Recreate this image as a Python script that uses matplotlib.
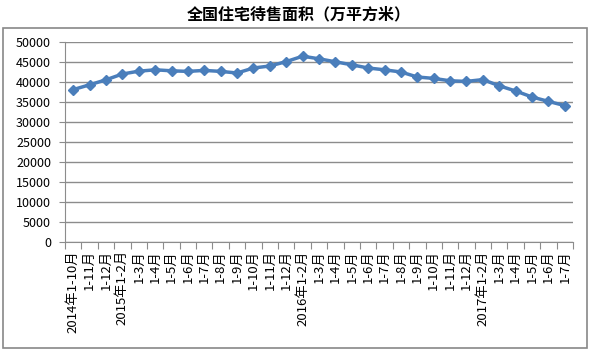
import matplotlib.pyplot as plt
from matplotlib.patches import Rectangle

plt.rcParams['font.family'] = ['Noto Sans CJK SC', 'DejaVu Sans']

categories = ['2014年1-10月', '1-11月', '1-12月',
              '2015年1-2月', '1-3月', '1-4月', '1-5月', '1-6月', '1-7月', '1-8月',
              '1-9月', '1-10月', '1-11月', '1-12月',
              '2016年1-2月', '1-3月', '1-4月', '1-5月', '1-6月', '1-7月', '1-8月',
              '1-9月', '1-10月', '1-11月', '1-12月',
              '2017年1-2月', '1-3月', '1-4月', '1-5月', '1-6月', '1-7月']
values = [38100, 39300, 40550, 42000, 42700, 43050, 42800, 42650, 42900, 42650,
          42250, 43500, 44000, 45100,
          46450, 45800, 45050, 44300, 43500, 43050, 42500,
          41250, 40900, 40300, 40150,
          40600, 39050, 37750, 36250, 35150, 34100]
yticks = list(range(0, 50001, 5000))

fig = plt.figure(figsize=(5.9, 3.61), dpi=100)
# outer chart frame
fig.patches.append(Rectangle((3 / 590, 1 - 348 / 361), 584 / 590, 320 / 361,
                             transform=fig.transFigure, fill=False,
                             edgecolor='#888888', linewidth=1.2))
fig.text(299 / 590, 1 - 14 / 361, '全国住宅待售面积（万平方米）',
         ha='center', va='center', fontsize=11.5, fontweight='bold')

ax = fig.add_axes([65 / 590, 1 - 242 / 361, 508 / 590, 200 / 361])
x = list(range(len(categories)))
ax.plot(x, values, color='#4a7ebb', linewidth=2.5, marker='D', markersize=5.5,
        markerfacecolor='#4a7ebb', markeredgecolor='#4a7ebb')

ax.set_xlim(-0.5, len(categories) - 0.5)
ax.set_ylim(0, 50000)
ax.set_yticks(yticks)
ax.set_yticklabels([str(v) for v in yticks], fontsize=9)
ax.yaxis.grid(True, color='#8c8c8c', linewidth=1)
ax.set_axisbelow(True)

ax.set_xticks([i - 0.5 for i in range(len(categories) + 1)])
ax.set_xticklabels([])
ax.set_xticks(x, minor=True)
ax.set_xticklabels(categories, minor=True, rotation=90, fontsize=9.5,
                   va='top', ha='center')
ax.tick_params(axis='x', which='minor', length=0, pad=6)
ax.tick_params(axis='x', which='major', length=5, direction='out', color='#8c8c8c')
ax.tick_params(axis='y', length=4, direction='out', color='#8c8c8c', pad=6)

for s in ['top', 'right']:
    ax.spines[s].set_visible(False)
for s in ['left', 'bottom']:
    ax.spines[s].set_color('#8c8c8c')

fig.savefig('out.png', dpi=100)
